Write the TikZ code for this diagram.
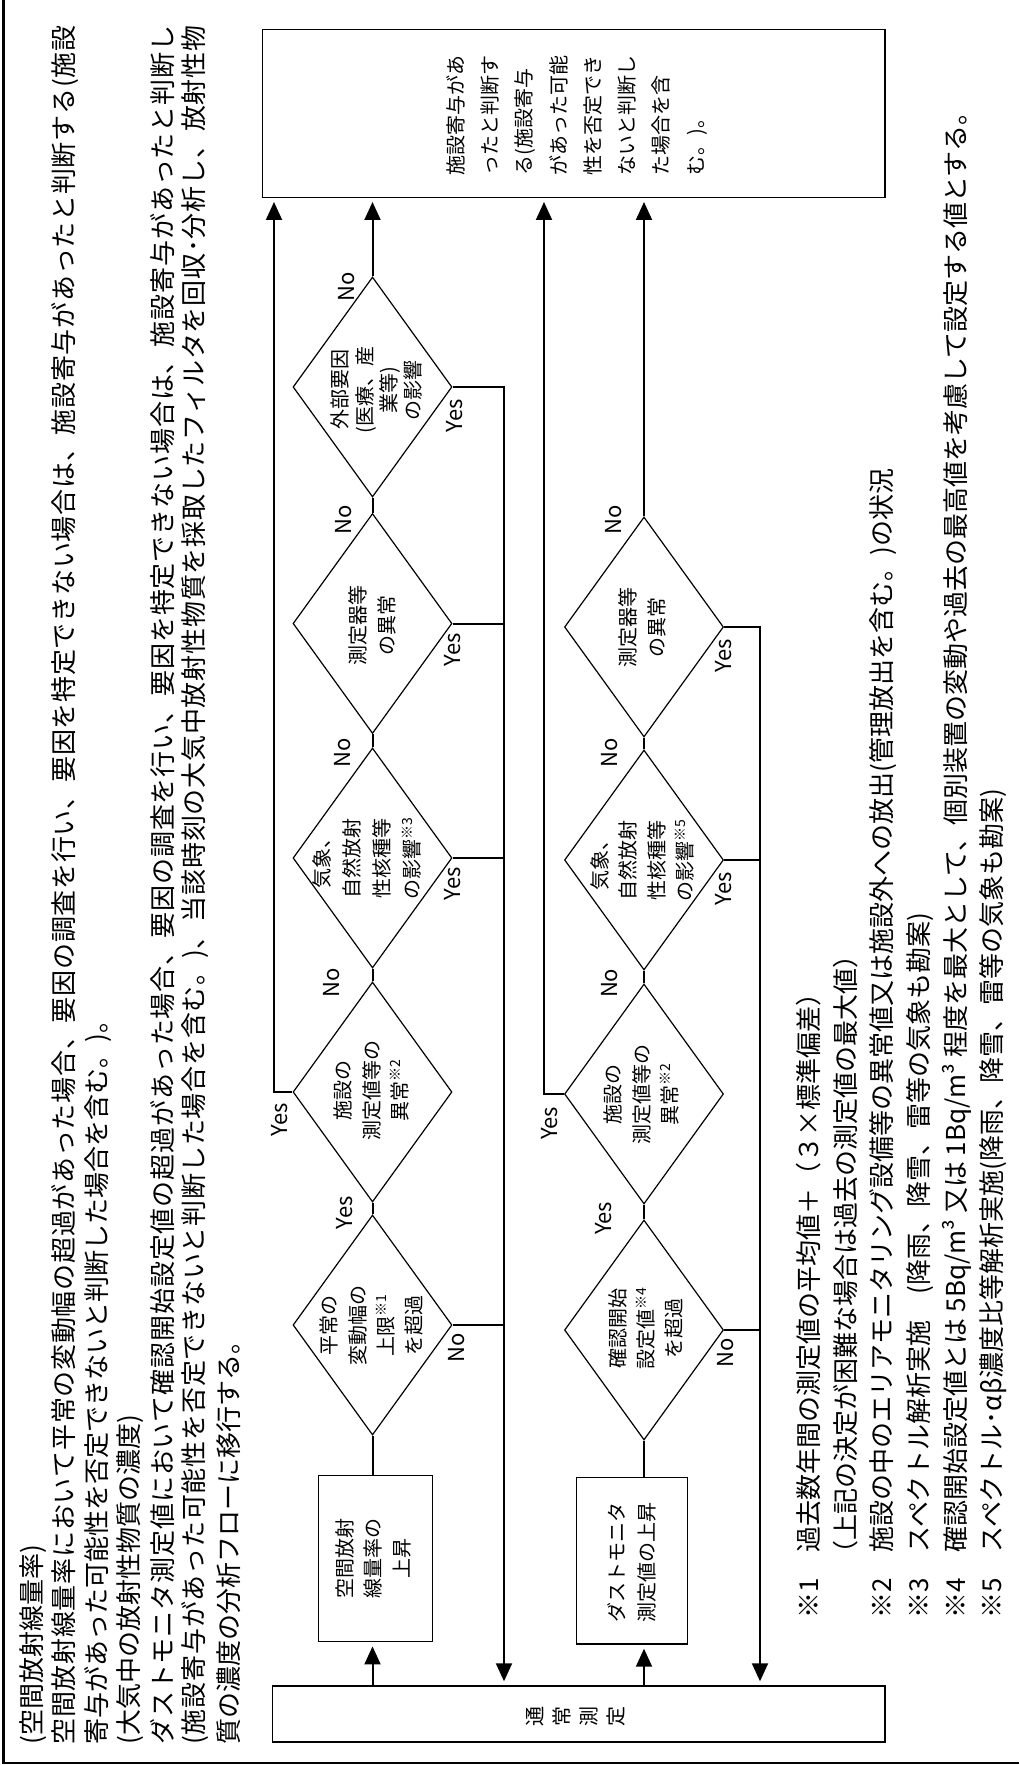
\documentclass[tikz,border=0pt]{standalone}
\usepackage{fontspec}
\setmainfont{Noto Sans CJK JP}
\usetikzlibrary{arrows.meta,shapes.geometric}
\makeatletter
\def\jline#1#2{\hbox to #1{\jl@spread#2\relax\unskip}}
\def\jl@spread#1{\ifx\relax#1\else#1\hfil\expandafter\jl@spread\fi}
\makeatother
\begin{document}
\begin{tikzpicture}[x=0.5pt,y=-0.5pt,
  conn/.style={line width=1pt},
  arr/.style={-{Triangle[width=8pt,length=9pt]}, shorten >=2pt},
  dia/.style={draw, shape=diamond, line width=0.6pt, minimum width=79.5pt, minimum height=110pt, inner sep=0pt},
  box/.style={draw, rectangle, line width=0.7pt, inner sep=0pt},
  rtext/.style={rotate=90, inner sep=0pt, align=center, font=\fontsize{10pt}{14.2pt}\selectfont},
  lbl/.style={rotate=90, inner sep=0pt, font=\fontsize{11pt}{12pt}\selectfont},
  para/.style={rotate=90, anchor=west, inner sep=0pt, font=\fontsize{13pt}{16pt}\selectfont}]
\useasboundingbox (0,0) rectangle (1019,1765);
% frame
\draw[line width=1.1pt] (3.5,0) -- (3.5,1763) -- (1019,1763);

% paragraph text
\node[para] (p1) at (33,1745) {(空間放射線量率)};
\node[para] (p2) at (65.5,1745) {\jline{859.5pt}{空間放射線量率において平常の変動幅の超過があった場合、要因の調査を行い、要因を特定できない場合は、施設寄与があったと判断する(施設}};
\node[para] (p3) at (98,1745) {寄与があった可能性を否定できないと判断した場合を含む。)。};
\node[para] (p4) at (130.5,1745) {(大気中の放射性物質の濃度)};
\node[para] (p5) at (163,1745) {\jline{859.5pt}{ダストモニタ測定値において確認開始設定値の超過があった場合、要因の調査を行い、要因を特定できない場合は、施設寄与があったと判断し}};
\node[para] (p6) at (195.5,1745) {\jline{859.5pt}{(施設寄与があった可能性を否定できないと判断した場合を含む。)、当該時刻の大気中放射性物質を採取したフィルタを回収･分析し、放射性物}};
\node[para] (p7) at (228.5,1745) {質の濃度の分析フローに移行する。};

% boxes
\node[box, minimum width=311.2pt, minimum height=84pt] (R) at (573.85,113.3) {};
\node[box, minimum width=306.2pt, minimum height=28pt] (N) at (578.85,1714) {};
\node[box, minimum width=56.8pt, minimum height=83pt] (Bk) at (375.5,1558.7) {};
\node[box, minimum width=55.3pt, minimum height=83.2pt] (Bd) at (632,1560.8) {};

% diamonds
\node[dia] (Dgai) at (372.5,387) {};
\node[dia] (Ds1) at (372.5,623.5) {};
\node[dia] (Dk1) at (372.5,858) {};
\node[dia] (Dsh1) at (372.5,1092) {};
\node[dia] (Dh) at (372.5,1325) {};
\node[dia] (Ds2) at (644,627) {};
\node[dia] (Dk2) at (644,860) {};
\node[dia] (Dsh2) at (644,1094) {};
\node[dia] (Dkk) at (644,1330) {};

% bus coordinates
\coordinate (busA) at (504,0);
\coordinate (busB) at (760,0);
\coordinate (busL) at (274,0);
\coordinate (busM) at (544,0);

% upper flow connectors
\draw[conn,arr] (N.north -| Dh.south) -- (Bk.south -| Dh.south);
\draw[conn] (Bk.north -| Dh.south) -- (Dh.south);
\draw[conn] (Dh.north) -- (Dsh1.south);
\draw[conn] (Dsh1.north) -- (Dk1.south);
\draw[conn] (Dk1.north) -- (Ds1.south);
\draw[conn] (Ds1.north) -- (Dgai.south);
\draw[conn,arr] (Dgai.north) -- (Dgai.north |- R.south);
\draw[conn,arr] (Dsh1.west) -| (R.south -| busL);
\draw[conn,arr] (Dgai.east) -| (N.north -| busA);
\draw[conn] (Ds1.east) -- (Ds1.east -| busA);
\draw[conn] (Dk1.east) -- (Dk1.east -| busA);
\draw[conn] (Dh.east) -- (Dh.east -| busA);

% lower flow connectors
\draw[conn,arr] (N.north -| Dkk.south) -- (Bd.south -| Dkk.south);
\draw[conn] (Bd.north -| Dkk.south) -- (Dkk.south);
\draw[conn] (Dkk.north) -- (Dsh2.south);
\draw[conn] (Dsh2.north) -- (Dk2.south);
\draw[conn] (Dk2.north) -- (Ds2.south);
\draw[conn,arr] (Ds2.north) -- (Ds2.north |- R.south);
\draw[conn,arr] (Dsh2.west) -| (R.south -| busM);
\draw[conn,arr] (Ds2.east) -| (N.north -| busB);
\draw[conn] (Dk2.east) -- (Dk2.east -| busB);
\draw[conn] (Dkk.east) -- (Dkk.east -| busB);

% shape texts
\node[rotate=90, align=left, text width=61pt, inner sep=0pt, font=\fontsize{10pt}{17.15pt}\selectfont] (Rt) at (576.7,114.5) {施設寄与があ\\ったと判断す\\る(施設寄与\\があった可能\\性を否定でき\\ないと判断し\\た場合を含\\む。)。};
\node[rtext, font=\fontsize{10pt}{13.5pt}\selectfont] (Nt) at (576,1716) {通\\常\\測\\定};
\node[rtext] (Bkt) at (373.3,1558) {空間放射\\線量率の\\上昇};
\node[rtext, font=\fontsize{10pt}{15pt}\selectfont] (Bdt) at (631.7,1562) {ダストモニタ\\測定値の上昇};

\node[rtext, font=\fontsize{10pt}{12.2pt}\selectfont] (tDgai) at (376.7,390) {外部要因\\(医療、産\\業等)\\の影響};
\node[rtext] (tDs1) at (372.5,625) {測定器等\\の異常};
\node[rtext, font=\fontsize{10pt}{15pt}\selectfont] (tDk1) at (366.7,858) {気象、\\自然放射\\性核種等\\の影響\textsuperscript{※3}};
\node[rtext] (tDsh1) at (371.7,1090) {施設の\\測定値等の\\異常\textsuperscript{※2}};
\node[rtext] (tDh) at (371.7,1325) {平常の\\変動幅の\\上限\textsuperscript{※1}\\を超過};

\node[rtext] (tDs2) at (642.5,627) {測定器等\\の異常};
\node[rtext] (tDk2) at (642.5,860) {気象、\\自然放射\\性核種等\\の影響\textsuperscript{※5}};
\node[rtext] (tDsh2) at (641.7,1094) {施設の\\測定値等の\\異常\textsuperscript{※2}};
\node[rtext] (tDkk) at (645.8,1328) {確認開始\\設定値\textsuperscript{※4}\\を超過};

% Yes / No labels
\node[lbl] (l1) at (346.7,286.7) {No};
\node[lbl] (l2) at (455,416) {Yes};
\node[lbl] (l3) at (343.3,520) {No};
\node[lbl] (l4) at (453,650) {Yes};
\node[lbl] (l5) at (343,753) {No};
\node[lbl] (l6) at (453,884) {Yes};
\node[lbl] (l7) at (331.7,983) {No};
\node[lbl] (l8) at (280,1120) {Yes};
\node[lbl] (l9) at (345,1213) {Yes};
\node[lbl] (l10) at (456.7,1348) {No};

\node[lbl] (m1) at (613.3,520) {No};
\node[lbl] (m2) at (724,656) {Yes};
\node[lbl] (m3) at (610,753) {No};
\node[lbl] (m4) at (724,889) {Yes};
\node[lbl] (m5) at (610,983.3) {No};
\node[lbl] (m6) at (550,1123.3) {Yes};
\node[lbl] (m7) at (603.3,1218.3) {Yes};
\node[lbl] (m8) at (726,1353) {No};

% notes
\node[para] (n1) at (809,1619) {※1　過去数年間の測定値の平均値＋（３×標準偏差）};
\node[para] (n1b) at (846,1619) {　　（上記の決定が困難な場合は過去の測定値の最大値）};
\node[para] (n2) at (883,1619) {※2　施設の中のエリアモニタリング設備等の異常値又は施設外への放出(管理放出を含む。)の状況};
\node[para] (n3) at (920,1619) {※3　スペクトル解析実施　(降雨、降雪、雷等の気象も勘案)};
\node[para] (n4) at (957,1619) {※4　確認開始設定値とは 5Bq/m³ 又は 1Bq/m³ 程度を最大として、個別装置の変動や過去の最高値を考慮して設定する値とする。};
\node[para] (n5) at (993.5,1619) {※5　スペクトル･αβ濃度比等解析実施(降雨、降雪、雷等の気象も勘案)};
\end{tikzpicture}
\end{document}
